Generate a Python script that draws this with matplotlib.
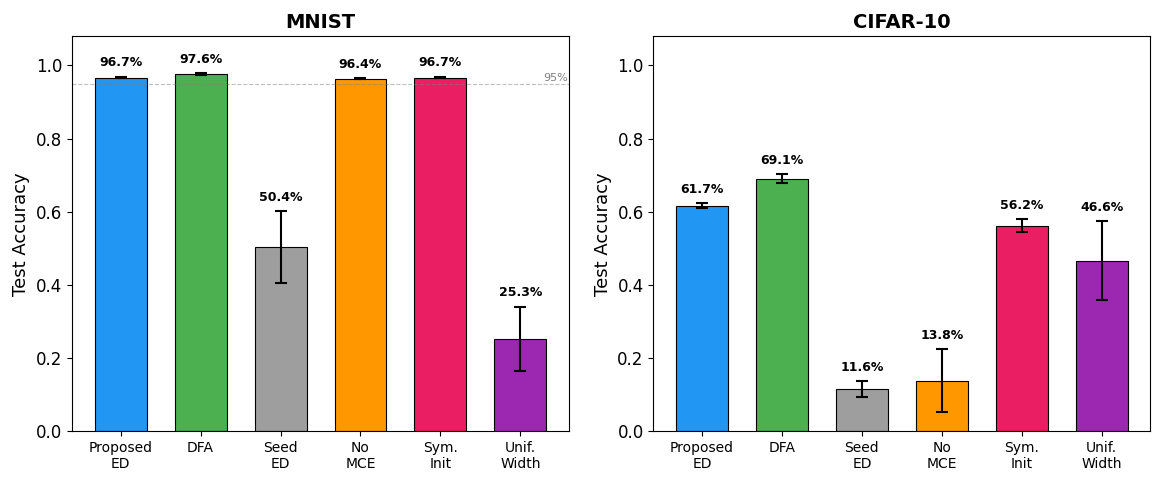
import numpy as np
import matplotlib
matplotlib.use("Agg")
import matplotlib.pyplot as plt

# method names and colours
methods = ["Proposed\nED", "DFA", "Seed\nED", "No\nMCE", "Sym.\nInit", "Unif.\nWidth"]
colors = ["#2196F3", "#4CAF50", "#9E9E9E", "#FF9800", "#E91E63", "#9C27B0"]

# mean test accuracy and std per dataset
mnist_mean = [0.967, 0.976, 0.504, 0.964, 0.967, 0.253]
mnist_std = [0.002, 0.002, 0.098, 0.002, 0.002, 0.088]
cifar_mean = [0.617, 0.691, 0.116, 0.138, 0.562, 0.466]
cifar_std = [0.007, 0.012, 0.022, 0.086, 0.017, 0.108]

fig, axes = plt.subplots(1, 2, figsize=(11.62, 4.82), dpi=100)

def draw_panel(ax, means, stds, title, ref_line=False):
    x = np.arange(len(methods))
    ax.bar(x, means, width=0.65, yerr=stds, color=colors, edgecolor="black",
           linewidth=0.8, capsize=4, error_kw=dict(elinewidth=1.5, capthick=1.5))
    for xi, m, s in zip(x, means, stds):
        ax.text(xi, m + s + 0.02, f"{m*100:.1f}%", ha="center", va="bottom",
                fontsize=9, fontweight="bold")
    if ref_line:
        ax.axhline(0.95, color="gray", linestyle="--", linewidth=0.8, alpha=0.5)
        ax.text(5.6, 0.952, "95%", ha="right", va="bottom", fontsize=8, color="gray")
    ax.set_xticks(x)
    ax.set_xticklabels(methods, fontsize=10)
    ax.set_ylim(0, 1.08)
    ax.tick_params(axis="y", labelsize=12)
    ax.set_ylabel("Test Accuracy", fontsize=13)
    ax.set_title(title, fontsize=14, fontweight="bold")

draw_panel(axes[0], mnist_mean, mnist_std, "MNIST", ref_line=True)
draw_panel(axes[1], cifar_mean, cifar_std, "CIFAR-10")

plt.subplots_adjust(left=0.062, right=0.99, top=0.925, bottom=0.105, wspace=0.17)
plt.savefig("out.png")
